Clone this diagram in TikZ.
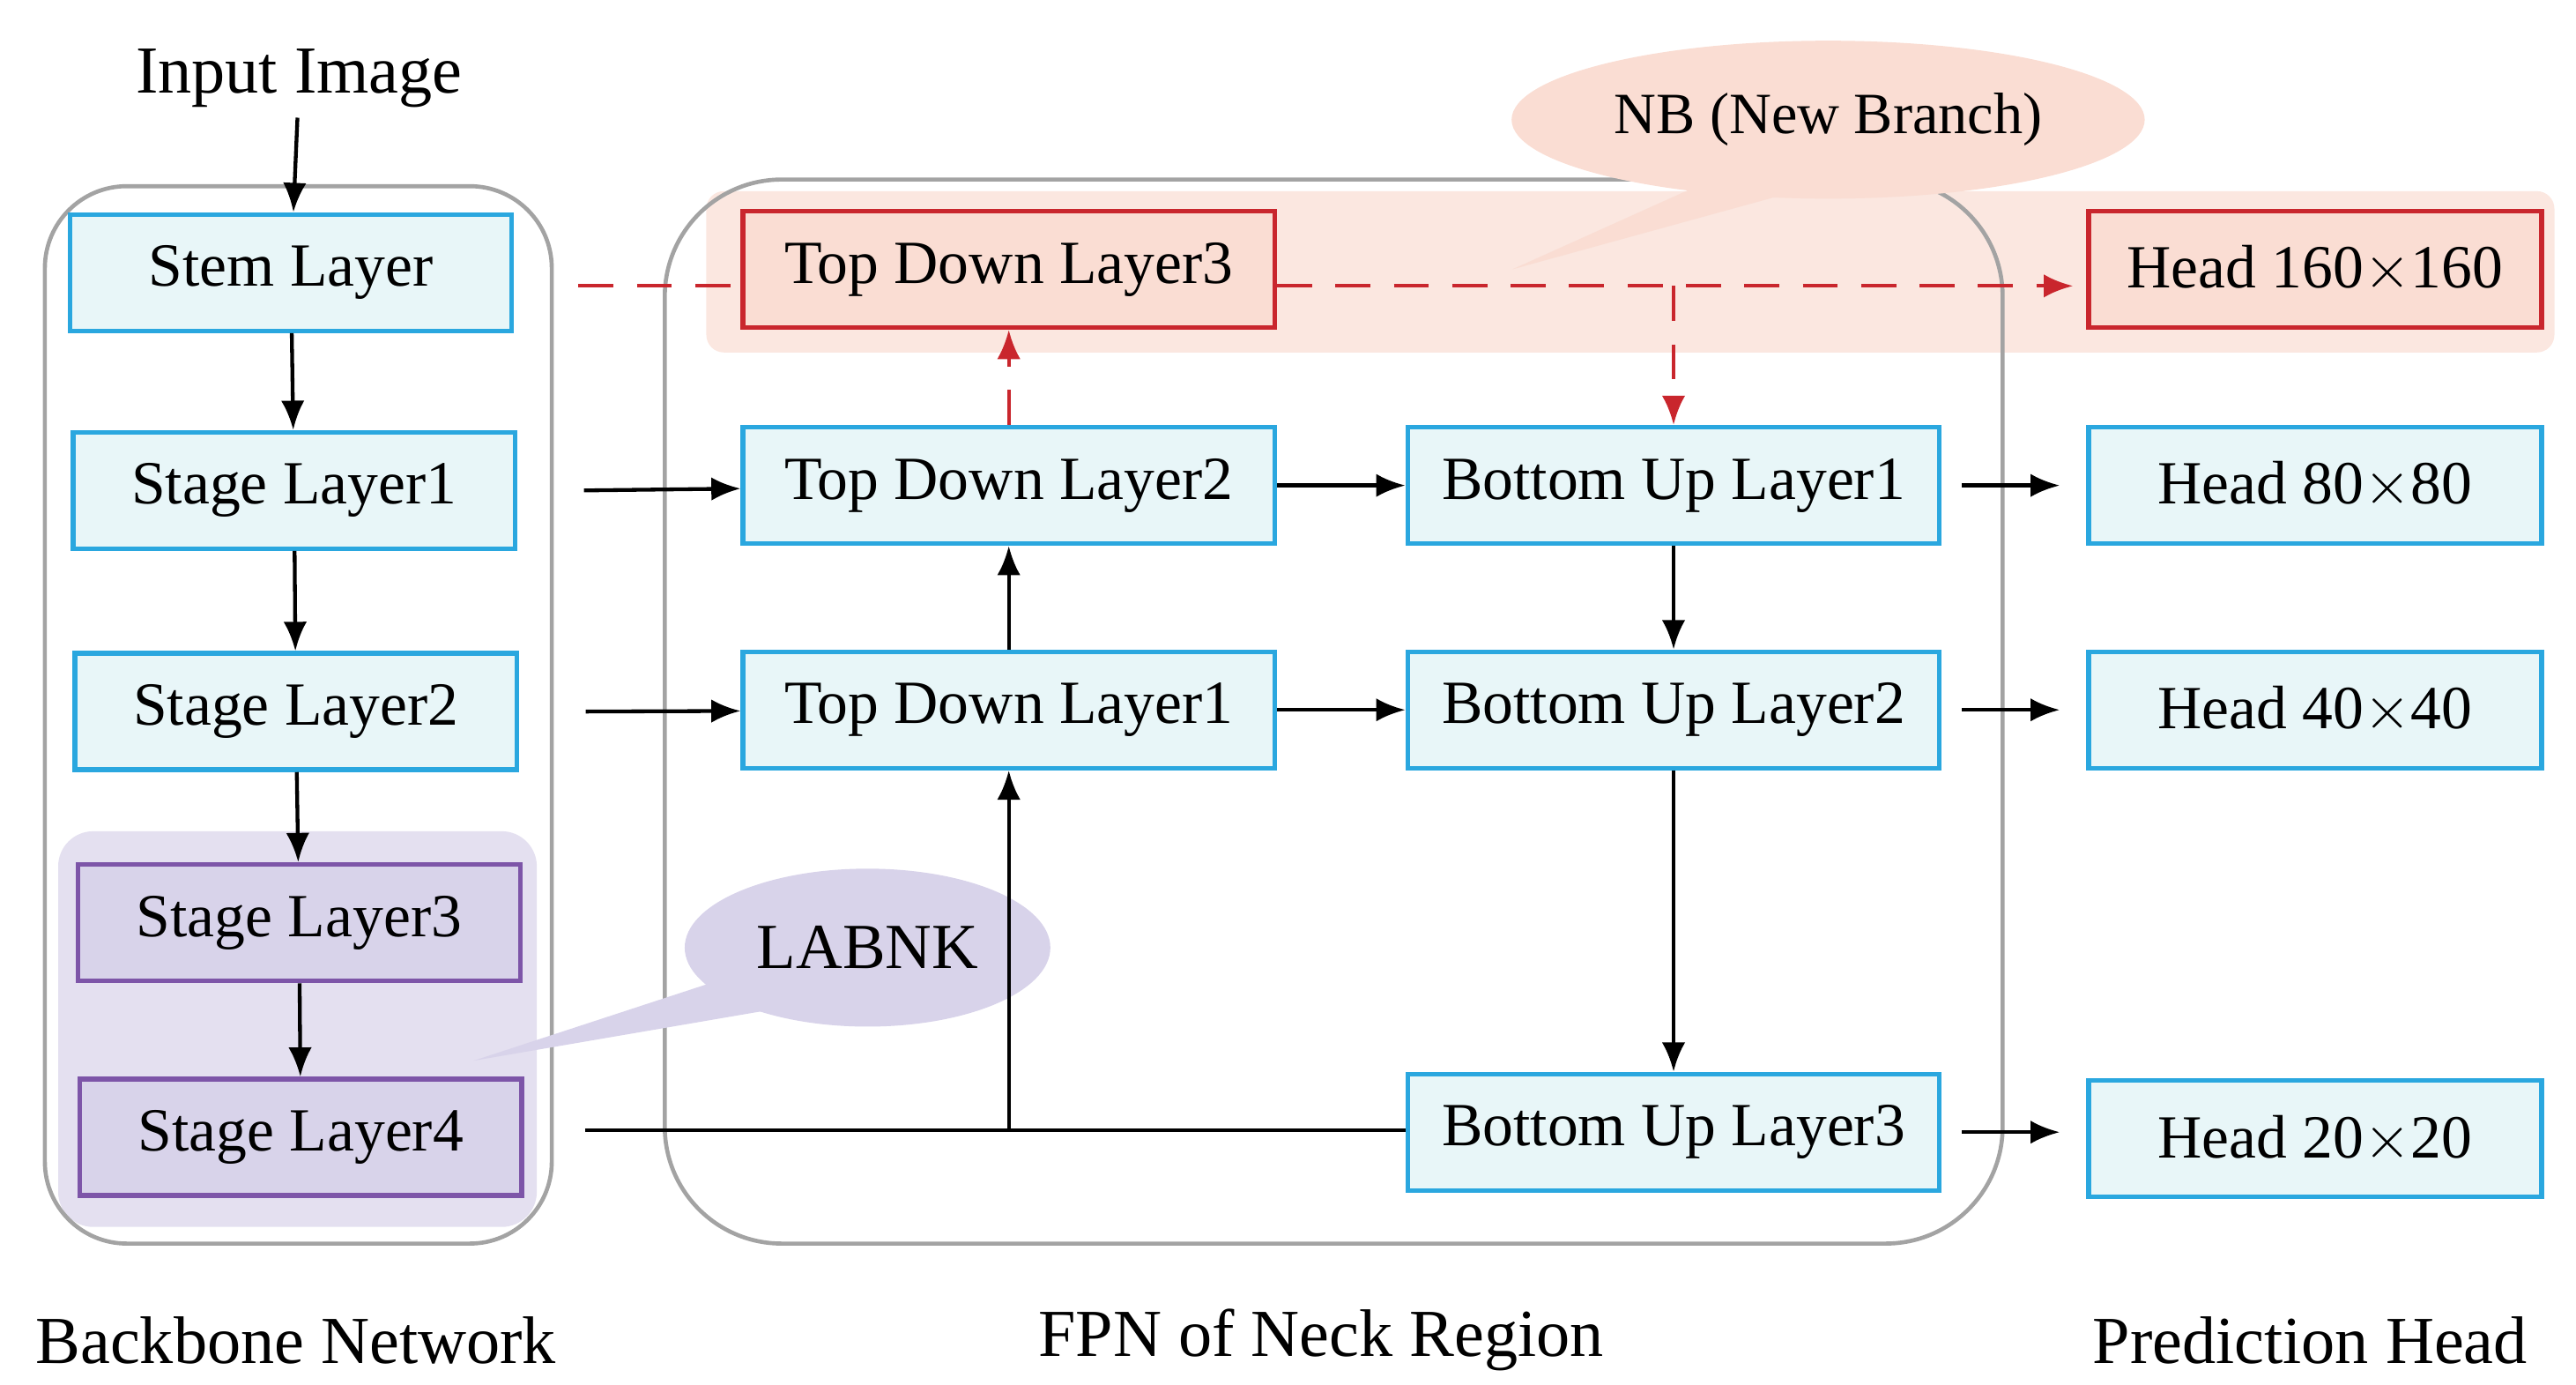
\documentclass[tikz,border=0pt]{standalone}
\usepackage{fontspec}
\setmainfont{Liberation Serif}
\usetikzlibrary{shapes.geometric,arrows.meta}
\definecolor{boxfill}{HTML}{E8F6F8}
\definecolor{boxline}{HTML}{2AA7DF}
\definecolor{purfill}{HTML}{D8D3EA}
\definecolor{purline}{HTML}{7D55A8}
\definecolor{redline}{HTML}{C9262D}
\definecolor{redfill}{HTML}{FADDD3}
\definecolor{bandfill}{HTML}{FBE7E0}
\definecolor{outline}{HTML}{A3A3A3}
\tikzset{
  blk/.style={draw=boxline,fill=boxfill,line width=1.6pt,minimum width=6.4cm,minimum height=1.4cm,inner sep=0pt,font=\fontsize{21}{24}\selectfont},
  pblk/.style={blk,draw=purline,fill=purfill},
  rblk/.style={blk,draw=redline,fill=redfill},
  hblk/.style={blk,minimum width=5.45cm},
  lbl/.style={font=\fontsize{23}{27}\selectfont},
  arr/.style={-{Latex[length=10pt,width=8pt]},line width=1.3pt},
  rarr/.style={arr,redline,dash pattern=on 12pt off 8pt},
}
\begin{document}
\begin{tikzpicture}
\useasboundingbox (0,0) rectangle (31,16.66);
% group frames
\fill[bandfill,rounded corners=6pt] (8.5,12.42) rectangle (30.74,14.36);
\fill[purfill!70,rounded corners=12pt] (0.7,1.9) rectangle (6.46,6.66);
\draw[outline,line width=1.4pt,rounded corners=28pt] (0.54,1.7) rectangle (6.64,14.42);
\draw[outline,line width=1.4pt,rounded corners=40pt] (8,1.7) rectangle (24.1,14.5);
% callouts
\node[ellipse,fill=purfill,minimum width=4.4cm,minimum height=1.9cm,font=\fontsize{22}{26}\selectfont] (labnk) at (10.44,5.26) {LABNK};
\fill[purfill] (8.6,4.85) -- (5.7,3.9) -- (9.2,4.5) -- cycle;
\node[ellipse,fill=redfill,minimum width=6.6cm,minimum height=1.9cm,font=\fontsize{20}{24}\selectfont] (nb) at (22,15.22) {NB (New Branch)};
\fill[redfill] (20.6,14.5) -- (18.2,13.42) -- (21.4,14.3) -- cycle;
% backbone
\node[lbl] (input) at (3.6,15.72) {Input Image};
\node[blk,minimum width=5.32cm] (stem) at (3.5,13.38) {Stem Layer};
\node[blk,minimum width=5.32cm] (s1) at (3.54,10.76) {Stage Layer1};
\node[blk,minimum width=5.32cm] (s2) at (3.56,8.1) {Stage Layer2};
\node[pblk,minimum width=5.32cm] (s3) at (3.6,5.56) {Stage Layer3};
\node[pblk,minimum width=5.32cm] (s4) at (3.62,2.98) {Stage Layer4};
% neck
\node[rblk] (td3) at (12.14,13.42) {Top Down Layer3};
\node[blk] (td2) at (12.14,10.82) {Top Down Layer2};
\node[blk] (td1) at (12.14,8.12) {Top Down Layer1};
\node[blk] (bu1) at (20.14,10.82) {Bottom Up Layer1};
\node[blk] (bu2) at (20.14,8.12) {Bottom Up Layer2};
\node[blk] (bu3) at (20.14,3.04) {Bottom Up Layer3};
% heads
\node[rblk,minimum width=5.45cm] (h160) at (27.86,13.42) {Head 160$\times$160};
\node[hblk] (h80) at (27.86,10.82) {Head 80$\times$80};
\node[hblk] (h40) at (27.86,8.12) {Head 40$\times$40};
\node[hblk] (h20) at (27.86,2.96) {Head 20$\times$20};
% titles
\node[lbl] at (3.56,0.54) {Backbone Network};
\node[lbl] at (15.9,0.54) {FPN of Neck Region};
\node[lbl] at (27.8,0.54) {Prediction Head};
% connectors
\coordinate (nbl) at (6.96,13.22);
\coordinate (nbr) at (20.14,13.22);
\coordinate (s4r) at (7.04,3.06);
\coordinate (mid) at (12.14,3.06);
\draw[arr] (input) -- (stem);
\draw[arr] (stem) -- (s1);
\draw[arr] (s1) -- (s2);
\draw[arr] (s2) -- (s3);
\draw[arr] (s3) -- (s4);
\draw[rarr,-] (nbl) -- (td3.west |- nbl);
\draw[rarr] (td3.east |- nbl) -- ([xshift=-0.16cm]h160.west |- nbl);
\draw[rarr] (nbr) -- (bu1);
\draw[rarr] (td2) -- (td3);
\draw[arr] ([xshift=0.8cm]s1.east) -- (td2);
\draw[arr] ([xshift=0.8cm]s2.east) -- (td1);
\draw[line width=1.3pt] (s4r) -- (bu3.west |- s4r);
\draw[arr] (mid) -- (td1);
\draw[arr] (td1) -- (td2);
\draw[arr] (td2) -- (bu1);
\draw[arr] (td1) -- (bu2);
\draw[arr] (bu1) -- (bu2);
\draw[arr] (bu2) -- (bu3);
\draw[arr] ([xshift=0.24cm]bu1.east) -- ([xshift=-0.32cm]h80.west);
\draw[arr] ([xshift=0.24cm]bu2.east) -- ([xshift=-0.32cm]h40.west);
\draw[arr] ([xshift=0.24cm]bu3.east) -- ([xshift=-0.32cm]h20.west |- bu3);
\end{tikzpicture}
\end{document}
